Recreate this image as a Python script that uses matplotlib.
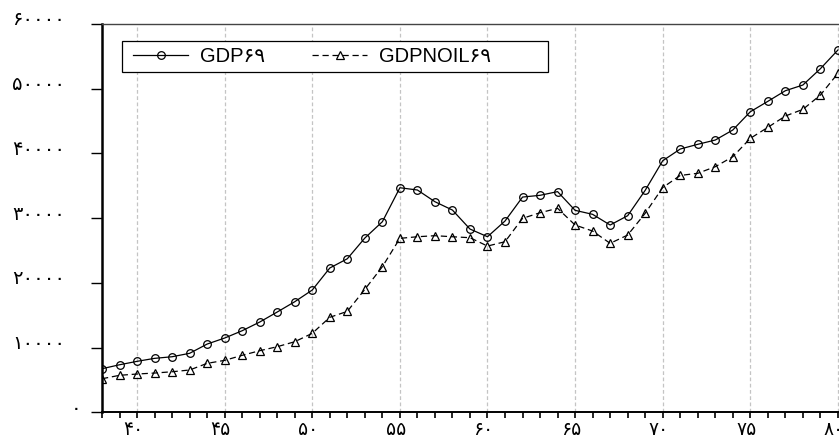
import matplotlib
matplotlib.use("Agg")
import matplotlib.pyplot as plt
import matplotlib.transforms as mtransforms
from matplotlib.patches import Rectangle
from matplotlib.ticker import MultipleLocator, FuncFormatter

years = list(range(38, 81))
gdp69 = [6740, 7350, 7880, 8340, 8590, 9120, 10550, 11480, 12610, 13950,
         15500, 17090, 18900, 22300, 23730, 26930, 29450, 34700, 34350, 32540,
         31250, 28320, 27130, 29560, 33260, 33530, 34100, 31210, 30590, 28940,
         30380, 34300, 38870, 40680, 41410, 42070, 43620, 46440, 48050, 49690,
         50570, 53090, 55980]
gdpnoil69 = [5190, 5720, 5920, 6070, 6270, 6540, 7570, 8030, 8810, 9520,
             10140, 10910, 12210, 14680, 15600, 19000, 22500, 26880, 27130, 27290,
             27130, 26980, 25690, 26360, 29970, 30840, 31520, 28940, 28010, 26110,
             27390, 30750, 34730, 36600, 36930, 37950, 39490, 42330, 44030, 45780,
             46810, 49020, 52380]
y_ticks = [0, 10000, 20000, 30000, 40000, 50000, 60000]

fa_digits = str.maketrans("0123456789", "۰۱۲۳۴۵۶۷۸۹")


def fa(v, pos=None):
    return str(int(round(v))).translate(fa_digits)


fig = plt.figure(figsize=(8.39, 4.41), dpi=100)
ax = fig.add_axes([0.1216, 0.065, 0.898, 0.8806])

ax.plot(years, gdp69, color="black", lw=0.9, marker="o", ms=5.5,
        mfc="none", mec="black", mew=0.9, label="GDP۶۹")
ax.plot(years, gdpnoil69, color="black", lw=0.9, ls=(0, (5, 3)), marker="^",
        ms=5.5, mfc="none", mec="black", mew=0.9, label="GDPNOIL۶۹")

ax.set_xlim(38, 81)
ax.set_ylim(0, 60000)

ax.xaxis.set_major_locator(MultipleLocator(5))
ax.xaxis.set_minor_locator(MultipleLocator(1))
ax.xaxis.set_major_formatter(FuncFormatter(fa))
ax.set_yticks(y_ticks)
ax.set_yticklabels([])

ax.grid(axis="x", which="major", color="#c4c4c4", ls=(0, (3, 2)), lw=0.9)
ax.set_axisbelow(True)

ax.tick_params(axis="x", which="both", direction="out", length=4.5, width=1.2,
               labelsize=13.5, pad=1)
ax.tick_params(axis="y", which="major", direction="out", length=8, width=1.0)

# x labels sit a little left of their ticks
shift_x = mtransforms.ScaledTranslation(-4 / 100, 0, fig.dpi_scale_trans)
for lab in ax.get_xticklabels():
    lab.set_family(["DejaVu Sans"])
    lab.set_transform(lab.get_transform() + shift_x)

# y labels drawn by hand: raised a touch, the lone zero set further right
ylab_tr = mtransforms.offset_copy(ax.get_yaxis_transform(), fig=fig,
                                  x=0, y=4, units="dots")
for v in y_ticks:
    ax.text(-0.027 if v == 0 else -0.049, v, fa(v), transform=ylab_tr,
            ha="right", va="center", fontsize=14, family=["DejaVu Sans"],
            clip_on=False)

ax.spines["left"].set_linewidth(1.8)
ax.spines["bottom"].set_linewidth(1.4)
ax.spines["top"].set_linewidth(1.0)
ax.spines["top"].set_color("#444444")
ax.spines["right"].set_visible(False)

# legend frame is wider than its entries
ax.add_patch(Rectangle((0.0261, 0.8756), 0.5655, 0.0814, transform=ax.transAxes,
                       fill=True, facecolor="white", edgecolor="black", lw=0.9,
                       zorder=4))
leg = ax.legend(loc="center left", bbox_to_anchor=(0.0411, 0.9163), ncol=2,
                frameon=False,
                prop={"family": ["Liberation Sans", "DejaVu Sans"], "size": 14.5},
                handlelength=2.75, columnspacing=2.3, borderpad=0,
                handletextpad=0.6, borderaxespad=0)
leg.set_zorder(5)

fig.savefig("out.png", dpi=100)
